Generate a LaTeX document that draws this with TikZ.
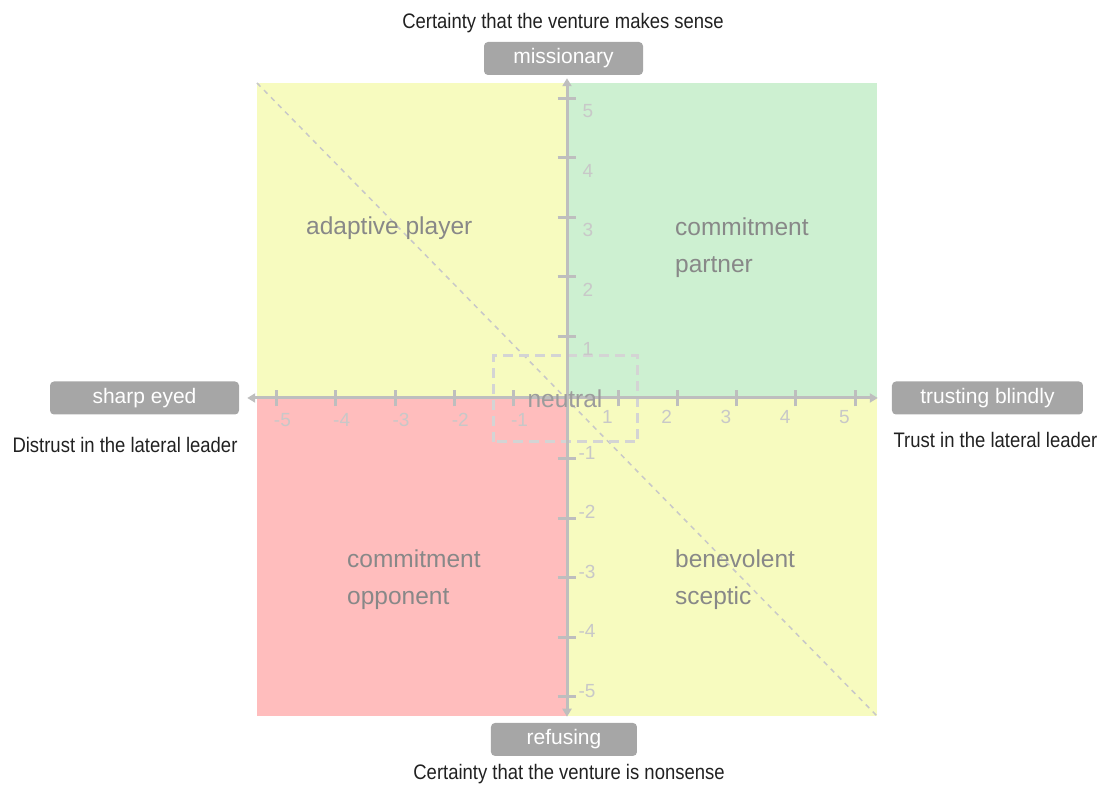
\documentclass[tikz,border=0pt]{standalone}
\usepackage{fontspec}
\setmainfont{Liberation Sans}
\newfontfamily\narrowfont{Liberation Sans}[FakeStretch=0.88]
\usetikzlibrary{arrows.meta}

\definecolor{quadyellow}{HTML}{F7FBBF}
\definecolor{quadgreen}{HTML}{CDF0D1}
\definecolor{quadred}{HTML}{FFBDBD}
\definecolor{axisgray}{HTML}{BEBEBE}
\definecolor{tickgray}{HTML}{C8C8C8}
\definecolor{dashgray}{HTML}{D4D4D4}
\definecolor{boxgray}{HTML}{A6A6A6}
\definecolor{labelgray}{HTML}{888888}
\definecolor{neutralgray}{HTML}{9C9C9C}

\tikzset{
  axis/.style={draw=axisgray, line width=3pt},
  axistip/.style={-{Triangle[length=8pt,width=9pt]}},
  ticklabel/.style={text=tickgray, font=\fontsize{19}{22}\selectfont, inner sep=0pt},
  tag/.style={fill=boxgray, rounded corners=4pt, text=white, font=\fontsize{21}{25}\selectfont, minimum height=33pt, inner sep=0pt},
  note/.style={text=black!87, font=\narrowfont\fontsize{21}{25}\selectfont, inner sep=0pt},
  quadlabel/.style={text=labelgray, font=\fontsize{24.5}{37}\selectfont, align=left, inner sep=0pt, anchor=west},
}

\begin{document}
\begin{tikzpicture}[x=59.3pt, y=59.5pt]
\useasboundingbox (-9.562,-6.538) rectangle (9.039,6.689);

\fill[quadyellow] (-5.228,0) rectangle (0,5.294);
\fill[quadgreen] (0,0) rectangle (5.228,5.294);
\fill[quadred] (-5.228,-5.345) rectangle (0,0);
\fill[quadyellow] (0,-5.345) rectangle (5.228,0);

\draw[tickgray, line width=1.5pt, dash pattern=on 5pt off 5pt] (-5.228,5.294) -- (5.228,-5.345);
\draw[dashgray, line width=3pt, dash pattern=on 10pt off 6pt] (-1.247,-0.739) rectangle (1.197,0.706);

\node[tag, minimum width=159pt] (missionary) at (-0.059,5.706) {missionary};
\node[tag, minimum width=146pt] (refusing) at (-0.051,-5.739) {refusing};
\node[tag, minimum width=189pt] (sharp) at (-7.125,0) {sharp eyed};
\node[tag, minimum width=191pt] (trusting) at (7.091,0) {trusting blindly};

\node[note] at (-0.067,6.294) {Certainty that the venture makes sense};
\node[note] at (0.034,-6.32) {Certainty that the venture is nonsense};
\node[note] at (-7.454,-0.782) {Distrust in the lateral leader};
\node[note] at (7.226,-0.714) {Trust in the lateral leader};

\coordinate (origin) at (0,0);
\draw[axis, axistip, shorten >=14pt] (origin) -- (trusting.west |- origin);
\draw[axis, axistip, shorten >=8pt] (origin) -- (sharp.east |- origin);
\draw[axis, axistip, shorten >=3pt] (origin) -- (origin |- missionary.south);
\draw[axis, axistip, shorten >=6pt] (origin) -- (origin |- refusing.north);

\foreach \i in {1,...,5} {
  \draw[axis] (\i-0.14,-0.14) -- (\i-0.14,0.14);
  \draw[axis] (-\i+0.1,-0.14) -- (-\i+0.1,0.14);
  \draw[axis] (-0.16,\i+0.04) -- (0.16,\i+0.04);
  \draw[axis] (-0.16,-\i-0.02) -- (0.16,-\i-0.02);
  \node[ticklabel] at (\i-0.32,-0.32) {\i};
  \node[ticklabel] at (-\i+0.2,-0.37) {-\i};
  \node[ticklabel] at (0.354,\i-0.18) {\i};
  \node[ticklabel] at (0.337,-\i+0.08) {-\i};
}

\node[text=neutralgray, font=\fontsize{24.5}{28}\selectfont, inner sep=0pt] (neutral) at (-0.034,-0.017) {neutral};

\node[quadlabel] (adaptive) at (-4.401,2.861) {adaptive player};
\node[quadlabel] (partner) at (1.821,2.532) {commitment\\partner};
\node[quadlabel] (opponent) at (-3.710,-3.047) {commitment\\opponent};
\node[quadlabel] (sceptic) at (1.821,-3.047) {benevolent\\sceptic};

\end{tikzpicture}
\end{document}
